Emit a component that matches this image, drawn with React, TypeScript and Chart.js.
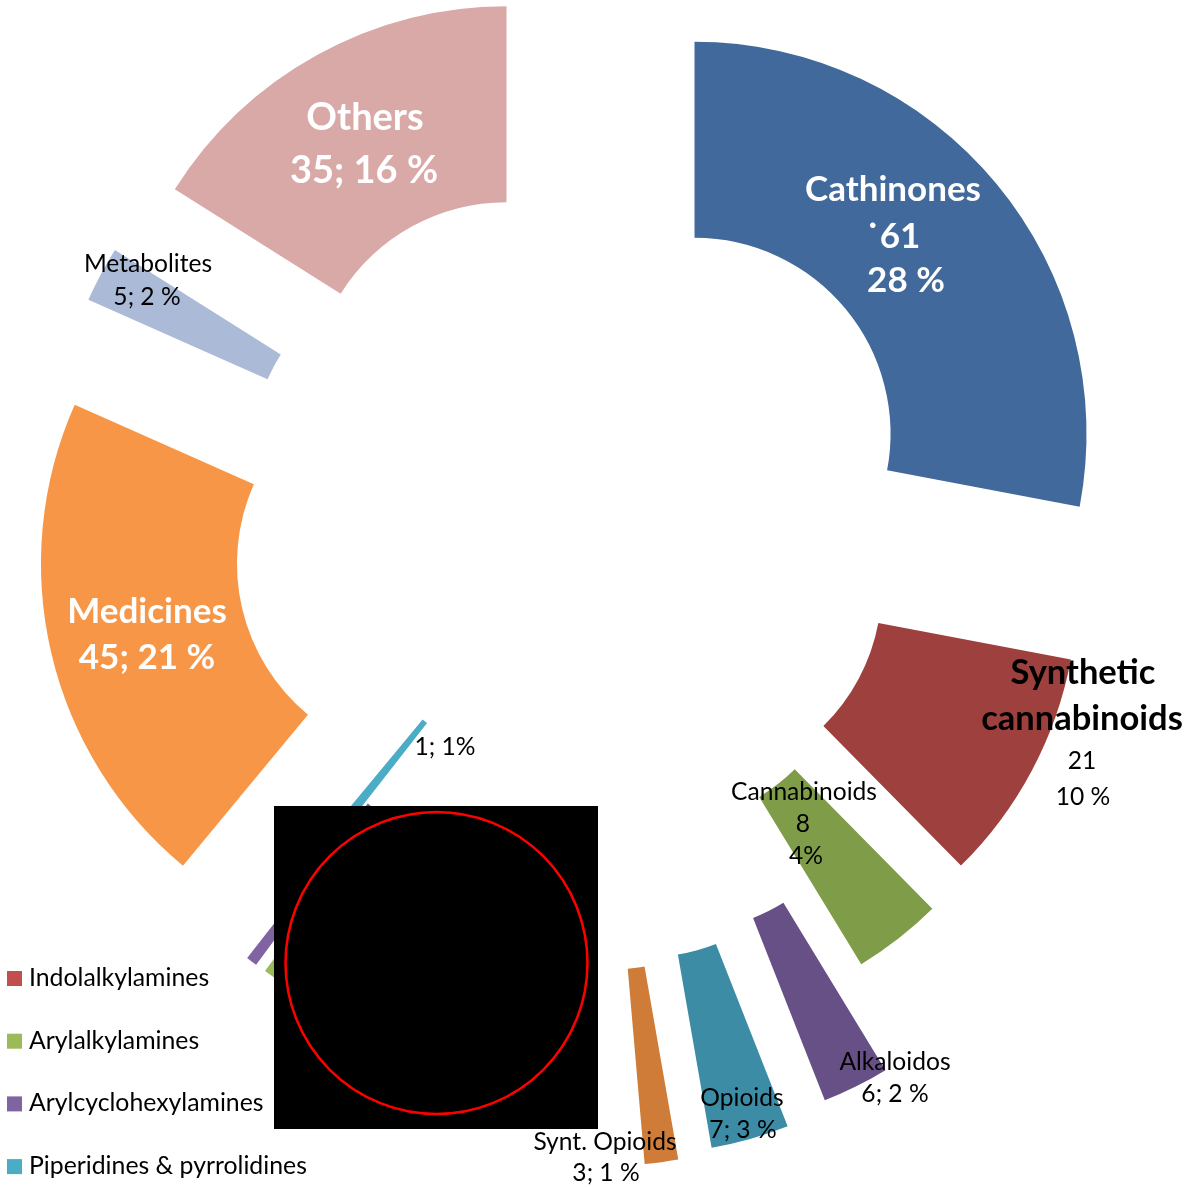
import React, { useEffect, useRef } from "react";
import { Chart, ArcElement, DoughnutController } from "chart.js";

Chart.register(ArcElement, DoughnutController);

// ---------- data ----------
const CATEGORIES = [
  "Cathinones",
  "Synthetic cannabinoids",
  "Cannabinoids",
  "Alkaloidos",
  "Opioids",
  "Synt. Opioids",
  "Indolalkylamines",
  "Arylalkylamines",
  "Arylcyclohexylamines",
  "Piperidines & pyrrolidines",
  "Medicines",
  "Metabolites",
  "Others",
];
const VALUES = [61, 21, 8, 6, 7, 3, 21, 4, 1, 1, 45, 5, 35];
const DATA_LABELS = [
  ["Cathinones", "˙61", "28 %"],
  ["Synthetic", "cannabinoids", "21", "10 %"],
  ["Cannabinoids", "8", "4%"],
  ["Alkaloidos", "6; 2 %"],
  ["Opioids", "7; 3 %"],
  ["Synt. Opioids", "3; 1 %"],
  [],
  [],
  [],
  ["1; 1%"],
  ["Medicines", "45; 21 %"],
  ["Metabolites", "5; 2 %"],
  ["Others", "35; 16 %"],
];
const LEGEND_ITEMS = [
  "Indolalkylamines",
  "Arylalkylamines",
  "Arylcyclohexylamines",
  "Piperidines & pyrrolidines",
];

// ---------- styles ----------
const COLORS = [
  "#41699B", "#9E403D", "#7F9C48", "#675085", "#3B8CA4", "#CE7C38",
  "#C0504D", "#9BBB59", "#8064A2", "#4BACC6", "#F79646", "#AABAD7", "#D9A9A8",
];
const EXPLODE = [150, 121, 127, 230, 241, 246, 150, 150, 150, 50, 150, 150, 150];
const FONT = "Lato";

type LineStyle = { dx: number; dy: number; size: number; bold: boolean; color: string };
const W = "#FFFFFF";
const K = "#000000";
const BIG = 35;
const SMALL = 24.6;
const LABEL_STYLE: LineStyle[][] = [
  [
    { dx: 314, dy: -329, size: BIG, bold: true, color: W },
    { dx: 314, dy: -282, size: BIG, bold: true, color: W },
    { dx: 327, dy: -238, size: BIG, bold: true, color: W },
  ],
  [
    { dx: 504, dy: 154, size: 34.5, bold: true, color: K },
    { dx: 503, dy: 200, size: 34.5, bold: true, color: K },
    { dx: 503, dy: 239, size: SMALL, bold: false, color: K },
    { dx: 504, dy: 275, size: SMALL, bold: false, color: K },
  ],
  [
    { dx: 225, dy: 270, size: SMALL, bold: false, color: K },
    { dx: 224, dy: 302, size: SMALL, bold: false, color: K },
    { dx: 227, dy: 334, size: SMALL, bold: false, color: K },
  ],
  [
    { dx: 316, dy: 540, size: SMALL, bold: false, color: K },
    { dx: 316, dy: 572, size: SMALL, bold: false, color: K },
  ],
  [
    { dx: 163, dy: 576, size: SMALL, bold: false, color: K },
    { dx: 164, dy: 608, size: SMALL, bold: false, color: K },
  ],
  [
    { dx: 26, dy: 620, size: SMALL, bold: false, color: K },
    { dx: 27, dy: 651, size: SMALL, bold: false, color: K },
  ],
  [],
  [],
  [],
  [{ dx: -134, dy: 225, size: SMALL, bold: false, color: K }],
  [
    { dx: -432, dy: 93, size: BIG, bold: true, color: W },
    { dx: -432, dy: 139, size: BIG, bold: true, color: W },
  ],
  [
    { dx: -431, dy: -258, size: SMALL, bold: false, color: K },
    { dx: -432, dy: -225, size: SMALL, bold: false, color: K },
  ],
  [
    { dx: -214, dy: -400, size: 38, bold: true, color: W },
    { dx: -215, dy: -347, size: 38, bold: true, color: W },
  ],
];

// legend layout (canvas px)
const LEGEND_X = 7;
const LEGEND_FIRST_BASELINE = 986;
const LEGEND_STEP = 62.7;
const LEGEND_BOX = 15;
const LEGEND_FONT_SIZE = 24.8;

const explodePlugin = {
  id: "explodeSlices",
  afterDatasetsUpdate(chart: any) {
    const meta = chart.getDatasetMeta(0);
    meta.data.forEach((arc: any, i: number) => {
      const mid = (arc.startAngle + arc.endAngle) / 2;
      const d = EXPLODE[i] || 0;
      arc.x = arc.x + d * Math.cos(mid);
      arc.y = arc.y + d * Math.sin(mid);
    });
  },
};

const labelPlugin = {
  id: "sliceLabels",
  afterDraw(chart: any) {
    const ctx = chart.ctx as CanvasRenderingContext2D;
    const area = chart.chartArea;
    const cx = (area.left + area.right) / 2;
    const cy = (area.top + area.bottom) / 2;
    ctx.save();
    ctx.textAlign = "center";
    ctx.textBaseline = "alphabetic";
    DATA_LABELS.forEach((lines, i) => {
      lines.forEach((text, j) => {
        const s = LABEL_STYLE[i][j];
        if (!s) return;
        ctx.font = `${s.bold ? "bold " : ""}${s.size}px ${FONT}`;
        ctx.fillStyle = s.color;
        ctx.fillText(text, cx + s.dx, cy + s.dy);
      });
    });
    // legend
    ctx.textAlign = "left";
    ctx.font = `${LEGEND_FONT_SIZE}px ${FONT}`;
    LEGEND_ITEMS.forEach((name, k) => {
      const idx = CATEGORIES.indexOf(name);
      const base = LEGEND_FIRST_BASELINE + k * LEGEND_STEP;
      ctx.fillStyle = COLORS[idx];
      ctx.fillRect(LEGEND_X, base - LEGEND_BOX, LEGEND_BOX, LEGEND_BOX);
      ctx.fillStyle = "#000000";
      ctx.fillText(name, LEGEND_X + 22, base);
    });
    ctx.restore();
  },
};

export default function App() {
  const canvasRef = useRef<HTMLCanvasElement | null>(null);

  useEffect(() => {
    let chart: Chart | null = null;
    let cancelled = false;
    const make = () => {
      if (cancelled || !canvasRef.current) return;
      chart = new Chart(canvasRef.current, {
        type: "doughnut",
        data: {
          labels: CATEGORIES,
          datasets: [
            {
              data: VALUES,
              backgroundColor: COLORS,
              borderWidth: 0,
            },
          ],
        },
        options: {
          responsive: false,
          animation: false,
          events: [],
          radius: 392,
          cutout: "50%",
          rotation: 0,
          layout: { padding: { left: 0, top: 0, right: 34, bottom: 128 } },
          plugins: {
            legend: { display: false },
            tooltip: { enabled: false },
          },
        } as any,
        plugins: [explodePlugin, labelPlugin],
      });
    };
    const fonts = (document as any).fonts;
    if (fonts && fonts.load) {
      Promise.all([
        fonts.load(`bold ${BIG}px ${FONT}`),
        fonts.load(`${SMALL}px ${FONT}`),
      ])
        .catch(() => {})
        .then(make);
    } else {
      make();
    }
    return () => {
      cancelled = true;
      if (chart) chart.destroy();
    };
  }, []);

  return (
    <div
      style={{
        position: "absolute",
        left: 0,
        top: 0,
        width: 1192,
        height: 1187,
        background: "#FFFFFF",
        overflow: "hidden",
      }}
    >
      <canvas
        ref={canvasRef}
        width={1192}
        height={1187}
        style={{ position: "absolute", left: 0, top: 0, width: 1192, height: 1187 }}
      />
      <svg
        width={324}
        height={323}
        style={{ position: "absolute", left: 274, top: 806 }}
      >
        <rect x={0} y={0} width={324} height={323} fill="#000000" />
        <circle cx={162.5} cy={157} r={151} fill="none" stroke="#FF0000" strokeWidth={2.5} />
      </svg>
    </div>
  );
}
